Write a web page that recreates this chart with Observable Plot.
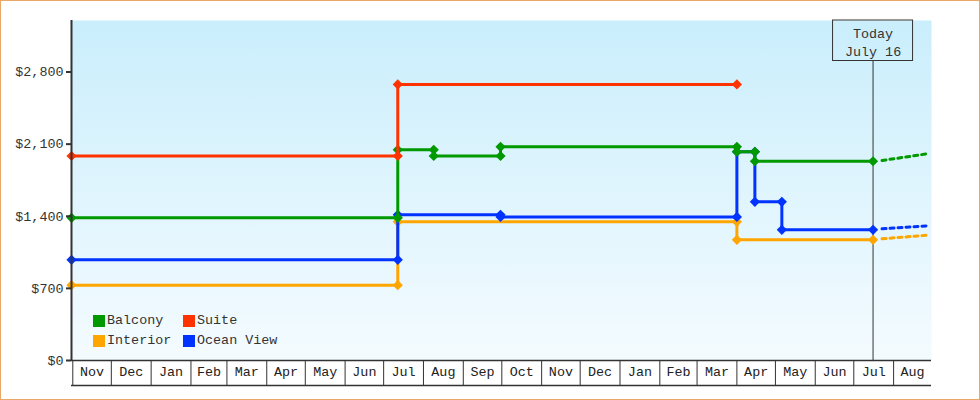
<!DOCTYPE html>
<html>
<head>
<meta charset="utf-8">
<script src="https://cdn.jsdelivr.net/npm/d3@7"></script>
<script src="https://cdn.jsdelivr.net/npm/@observablehq/plot@0.6"></script>
<style>
  body { margin: 0; background: #fff; }
  #wrap { position: relative; width: 980px; height: 400px; overflow: hidden; font-family: "Liberation Mono", "DejaVu Sans Mono", monospace; }
  #border { position: absolute; left: 0; top: 0; width: 980px; height: 400px; box-sizing: border-box; border: 1px solid #e9a863; pointer-events: none; }
  #legend { position: absolute; left: 93px; top: 310.5px; display: grid; grid-template-columns: 90px 110px; font-size: 13.4px; color: #333; }
  #legend .item { display: flex; align-items: center; height: 20px; white-space: nowrap; }
  #legend .sw { width: 12px; height: 12px; margin-right: 2px; flex: none; }
</style>
</head>
<body>
<svg width="0" height="0" style="position:absolute">
  <defs>
    <linearGradient id="bg" x1="0" y1="0" x2="0" y2="1">
      <stop offset="0" stop-color="#caeefc"></stop>
      <stop offset="1" stop-color="#f4fbff"></stop>
    </linearGradient>
  </defs>
</svg>
<div id="wrap">
  <div id="chart"></div>
  <div id="legend"></div>
  <div id="border"></div>
</div>
<script>
// ---- data ----
const seriesNames = ["Interior", "Ocean View", "Balcony", "Suite"]; // draw order
const seriesColors = ["#ffa500", "#0033ff", "#009900", "#ff3300"];
const legendOrder = ["Balcony", "Suite", "Interior", "Ocean View"];

const interiorDates = ["2022-10-31", "2023-07-12", "2023-07-12", "2024-04-01", "2024-04-01", "2024-07-16"];
const interiorValues = [731, 731, 1346, 1346, 1171, 1171];

const oceanDates = ["2022-10-31", "2023-07-12", "2023-07-12", "2023-09-30", "2023-09-30", "2024-04-01", "2024-04-01", "2024-04-15", "2024-04-15", "2024-05-06", "2024-05-06", "2024-07-16"];
const oceanValues = [977, 977, 1414, 1414, 1394, 1394, 2026, 2026, 1540, 1540, 1268, 1268];

const balconyDates = ["2022-10-31", "2023-07-12", "2023-07-12", "2023-08-09", "2023-08-09", "2023-09-30", "2023-09-30", "2024-04-01", "2024-04-01", "2024-04-15", "2024-04-15", "2024-07-16"];
const balconyValues = [1385, 1385, 2045, 2045, 1985, 1985, 2074, 2074, 2026, 2026, 1934, 1934];

const suiteDates = ["2022-10-31", "2023-07-12", "2023-07-12", "2024-04-01"];
const suiteValues = [1985, 1985, 2680, 2680];

const projDates = ["2024-07-23", "2024-08-27"];
const projInterior = [1181, 1216];
const projOcean = [1278, 1307];
const projBalcony = [1941, 2006];

const yTicks = [0, 700, 1400, 2100, 2800];
const yMax = 3300;
const xDomain = ["2022-10-31", "2024-08-30T12:00"];
const monthFormat = "%b";
const todayDate = "2024-07-16";
const todayLabel = ["Today", "July 16"];

// ---- build tables ----
const parse = s => new Date(s + (s.length === 10 ? "T00:00Z" : "Z"));
function rows(name, dates, values) {
  return dates.map((d, i) => ({series: name, date: parse(d), value: values[i]}));
}
const lineData = {
  "Interior": rows("Interior", interiorDates, interiorValues),
  "Ocean View": rows("Ocean View", oceanDates, oceanValues),
  "Balcony": rows("Balcony", balconyDates, balconyValues),
  "Suite": rows("Suite", suiteDates, suiteValues)
};
const projData = [
  ...rows("Interior", projDates, projInterior),
  ...rows("Ocean View", projDates, projOcean),
  ...rows("Balcony", projDates, projBalcony)
];
const x0 = parse(xDomain[0]), x1 = parse(xDomain[1]);
const monthStarts = d3.utcMonth.range(d3.utcMonth.ceil(x0), x1);
const monthMids = monthStarts.map(m => {
  const next = d3.utcMonth.offset(m, 1);
  const end = next > x1 ? x1 : next;
  return new Date((+m + +end) / 2);
});
const today = parse(todayDate);

const seriesMarks = seriesNames.flatMap(name => [
  Plot.line(lineData[name], {x: "date", y: "value", stroke: "series", strokeWidth: 3, strokeLinejoin: "miter", strokeLinecap: "butt"}),
  Plot.dot(lineData[name], {x: "date", y: "value", fill: "series", symbol: "diamond2", r: 4.6, stroke: "none"})
]);

const chart = Plot.plot({
  width: 980,
  height: 400,
  marginTop: 20,
  marginBottom: 40,
  marginLeft: 71,
  marginRight: 49,
  style: {fontFamily: '"Liberation Mono", "DejaVu Sans Mono", monospace', fontSize: "13.4px", color: "#333", background: "transparent"},
  x: {type: "utc", domain: [x0, x1]},
  y: {domain: [0, yMax]},
  color: {domain: seriesNames, range: seriesColors},
  marks: [
    Plot.frame({fill: "url(#bg)", stroke: "none"}),
    // today rule and box
    Plot.ruleX([today], {stroke: "#333", strokeWidth: 1, insetTop: 40.5}),
    Plot.rect([today], {x1: d => d, x2: d => d, insetLeft: -40, insetRight: -40, insetBottom: 299.5, stroke: "#333", fill: "none"}),
    Plot.text([today], {x: d => d, text: () => todayLabel.join("\n"), frameAnchor: "top", lineAnchor: "top", dy: 5, lineHeight: 1.35, fontSize: 13.4, fill: "#333"}),
    // projections
    Plot.line(projData, {x: "date", y: "value", z: "series", stroke: "series", strokeWidth: 3, strokeDasharray: "4,4"}),
    ...seriesMarks,
    // axes
    Plot.axisY({ticks: yTicks, tickFormat: d => "$" + d3.format(",")(d), tickSize: 5, tickPadding: 3, label: null, stroke: "#333", strokeWidth: 2, fill: "#333"}),
    Plot.ruleX([x0], {stroke: "#333", strokeWidth: 2}),
    Plot.ruleY([0], {stroke: "#333", strokeWidth: 1.5}),
    Plot.ruleY([0], {stroke: "#333", strokeWidth: 1.5, dy: 25}),
    Plot.axisX({ticks: monthStarts, tickSize: 25, tickFormat: () => "", label: null, stroke: "#333"}),
    Plot.axisX({ticks: monthMids, tickSize: 0, tickPadding: 6, tickFormat: monthFormat, label: null, fill: "#222"})
  ]
});
document.getElementById("chart").appendChild(chart);

// legend
const legend = document.getElementById("legend");
legendOrder.forEach(name => {
  const item = document.createElement("div");
  item.className = "item";
  const sw = document.createElement("span");
  sw.className = "sw";
  sw.style.background = seriesColors[seriesNames.indexOf(name)];
  const t = document.createElement("span");
  t.textContent = name;
  item.appendChild(sw);
  item.appendChild(t);
  legend.appendChild(item);
});
</script>
</body>
</html>
